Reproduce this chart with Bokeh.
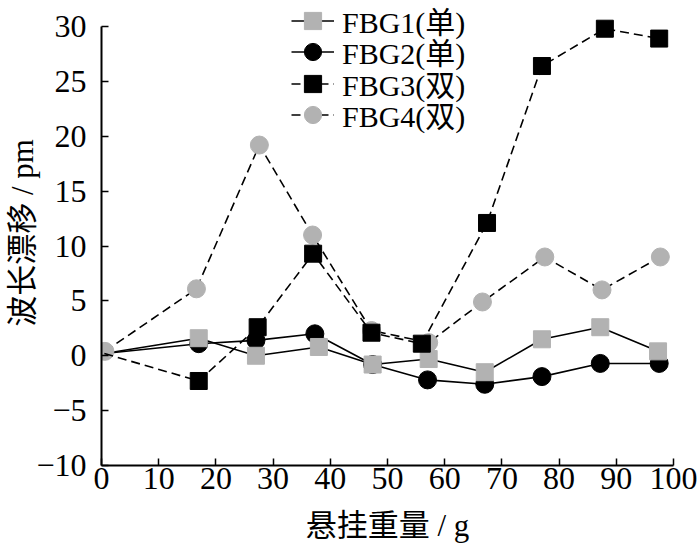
from bokeh.plotting import figure
from bokeh.models import Range1d, FixedTicker, Legend, LegendItem
from bokeh.embed import file_html
from bokeh.resources import INLINE

# ---- data ----
fbg1_x = [0.5, 17, 27, 38, 47.4, 57.2, 67, 77, 87.2, 97.3]
fbg1_y = [0.2, 1.6, 0.0, 0.8, -0.8, -0.3, -1.5, 1.5, 2.6, 0.4]
fbg2_x = [0.5, 17, 27, 37.3, 47.4, 57, 67, 77, 87.2, 97.5]
fbg2_y = [0.2, 1.1, 1.4, 2.0, -0.8, -2.2, -2.6, -1.9, -0.7, -0.7]
fbg3_x = [0.5, 17, 27.3, 37, 47.2, 56, 67.4, 77, 88, 97.5]
fbg3_y = [0.2, -2.3, 2.6, 9.3, 2.1, 1.1, 12.1, 26.4, 29.8, 28.9]
fbg4_x = [0.6, 16.6, 27.6, 36.9, 47.2, 57.2, 66.6, 77.5, 87.5, 97.7]
fbg4_y = [0.4, 6.1, 19.2, 11.0, 2.3, 1.2, 4.9, 9.0, 6.0, 9.0]
labels = ["FBG1(单)", "FBG2(单)", "FBG3(双)", "FBG4(双)"]
x_ticks = [0, 10, 20, 30, 40, 50, 60, 70, 80, 90, 100]
y_ticks = [-10, -5, 0, 5, 10, 15, 20, 25, 30]
y_tick_labels = {-10: "\u221210", -5: "\u22125"}
x_title = "悬挂重量 / g"
y_title = "波长漂移 / pm"

GRAY = "#b2b2b2"
FONT = "'Liberation Serif', 'Noto Sans CJK SC'"

# frame spans the full height above the x axis so the legend is not clipped;
# the axis lines themselves stop at the last tick (bounds)
p = figure(width=700, height=550, output_backend="svg", toolbar_location=None,
           x_range=Range1d(0, 100), y_range=Range1d(-10, 32.37),
           min_border_left=101, min_border_right=27, min_border_top=0,
           min_border_bottom=85)
p.outline_line_color = None
p.xgrid.visible = False
p.ygrid.visible = False
p.background_fill_color = "white"

# draw order: FBG2, FBG1, FBG4, FBG3
l2 = p.line(fbg2_x, fbg2_y, line_color="black", line_width=1.6)
s2 = p.scatter(fbg2_x[1:], fbg2_y[1:], marker="circle", size=18,
               fill_color="black", line_color="black")
l1 = p.line(fbg1_x, fbg1_y, line_color="black", line_width=1.6)
s1 = p.scatter(fbg1_x[1:], fbg1_y[1:], marker="square", size=17,
               fill_color=GRAY, line_color=GRAY)
l4 = p.line(fbg4_x, fbg4_y, line_color="black", line_width=1.6, line_dash="9 5")
s4 = p.scatter(fbg4_x, fbg4_y, marker="circle", size=18,
               fill_color=GRAY, line_color=GRAY)
l3 = p.line(fbg3_x, fbg3_y, line_color="black", line_width=1.6, line_dash="9 5")
s3 = p.scatter(fbg3_x[1:], fbg3_y[1:], marker="square", size=17,
               fill_color="black", line_color="black")

# one legend per row so that the row pitch matches the reference
rows = [(labels[0], [l1, s1], 423),
        (labels[1], [l2, s2], 392),
        (labels[2], [l3, s3], 360),
        (labels[3], [l4, s4], 329)]
for lab, rends, ypos in rows:
    lg = Legend(items=[LegendItem(label=lab, renderers=rends)],
                location=(190, ypos), orientation="vertical",
                glyph_width=43, glyph_height=43, label_height=31, spacing=0,
                padding=0, margin=0, label_standoff=8,
                label_text_font=FONT, label_text_font_size="30px",
                label_text_color="black",
                background_fill_alpha=0, border_line_color=None)
    p.add_layout(lg, "center")

for ax in (p.xaxis[0], p.yaxis[0]):
    ax.axis_line_width = 2
    ax.axis_line_color = "black"
    ax.major_tick_in = 7
    ax.major_tick_out = 0
    ax.major_tick_line_width = 1.5
    ax.minor_tick_line_color = None
    ax.major_label_text_font = FONT
    ax.major_label_text_font_size = "32px"
    ax.major_label_text_color = "black"
    ax.axis_label_text_font = FONT
    ax.axis_label_text_font_size = "31px"
    ax.axis_label_text_font_style = "normal"
    ax.axis_label_text_color = "black"

p.xaxis.bounds = (x_ticks[0], x_ticks[-1])
p.yaxis.bounds = (y_ticks[0], y_ticks[-1])
p.xaxis.ticker = FixedTicker(ticks=x_ticks)
p.yaxis.ticker = FixedTicker(ticks=y_ticks)
p.yaxis.major_label_overrides = y_tick_labels
p.xaxis.axis_label = x_title
p.yaxis.axis_label = y_title
p.xaxis.major_label_standoff = 2
p.yaxis.major_label_standoff = 15
p.xaxis.axis_label_standoff = 16
p.yaxis.axis_label_standoff = -7

open("out.html", "w").write(file_html(p, INLINE))
